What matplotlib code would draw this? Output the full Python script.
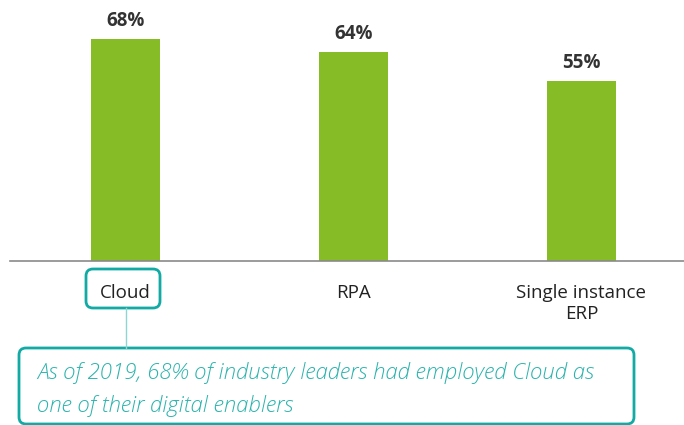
import matplotlib

matplotlib.use("Agg", force=True)
import matplotlib.pyplot as plt
from matplotlib.patches import FancyBboxPatch

plt.rcParams["font.family"] = ["Open Sans", "DejaVu Sans"]

categories = ["Cloud", "RPA", "Single instance\nERP"]
values = [68, 64, 55]
value_labels = ["68%", "64%", "55%"]
note = "As of 2019, 68% of industry leaders had employed Cloud as\none of their digital enablers"

GREEN = "#86bc25"
TEAL = "#12aaa5"
W, H = 684, 425

fig = plt.figure(figsize=(W / 100, H / 100), dpi=100)
ax = fig.add_axes([0, 0, 1, 1])
ax.axis("off")

# data scale: 228 px between bars, 3.265 px per percent, baseline at y=261 px
step = 228.0
ppu = 3.265
ax.set_xlim(-125.5 / step, (W - 125.5) / step)
ax.set_ylim(-(H - 261) / ppu, 261 / ppu)

x = list(range(len(categories)))
ax.bar(x, values, width=69 / step, color=GREEN, zorder=2)
ax.axhline(0, xmin=10 / W, xmax=1, color="#8a8a8a", lw=1.2, zorder=3)

for xi, v, lab in zip(x, values, value_labels):
    ax.text(xi, v + 5.5, lab, ha="center", va="center", fontsize=13.5, fontweight="bold", color="#333333")

for xi, cat in zip(x, categories):
    ax.text(xi, -23 / ppu, cat, ha="center", va="top", fontsize=13.5, color="#222222", linespacing=1.2)


def px_box(x0, y0, x1, y1, **kw):
    # pixel coords from top-left -> inches from bottom-left
    return FancyBboxPatch((x0 / 100, (H - y1) / 100), (x1 - x0) / 100, (y1 - y0) / 100,
                          boxstyle="round,pad=0,rounding_size=0.07",
                          transform=fig.dpi_scale_trans, fill=False, **kw)


fig.patches.append(px_box(86, 269, 160, 308, edgecolor=TEAL, lw=2))
fig.patches.append(px_box(19, 348, 634, 424, edgecolor=TEAL, lw=2))
fig.lines.append(plt.Line2D([126 / 100, 126 / 100], [(H - 308) / 100, (H - 348) / 100],
                            transform=fig.dpi_scale_trans, color="#8fd6d2", lw=1))

fig.text(37 / W, 1 - 362 / H, note, ha="left", va="top", fontsize=16, fontstyle="italic",
         fontweight="light", color="#2bb3ad", linespacing=1.62)

fig.savefig("out.png", dpi=100)
